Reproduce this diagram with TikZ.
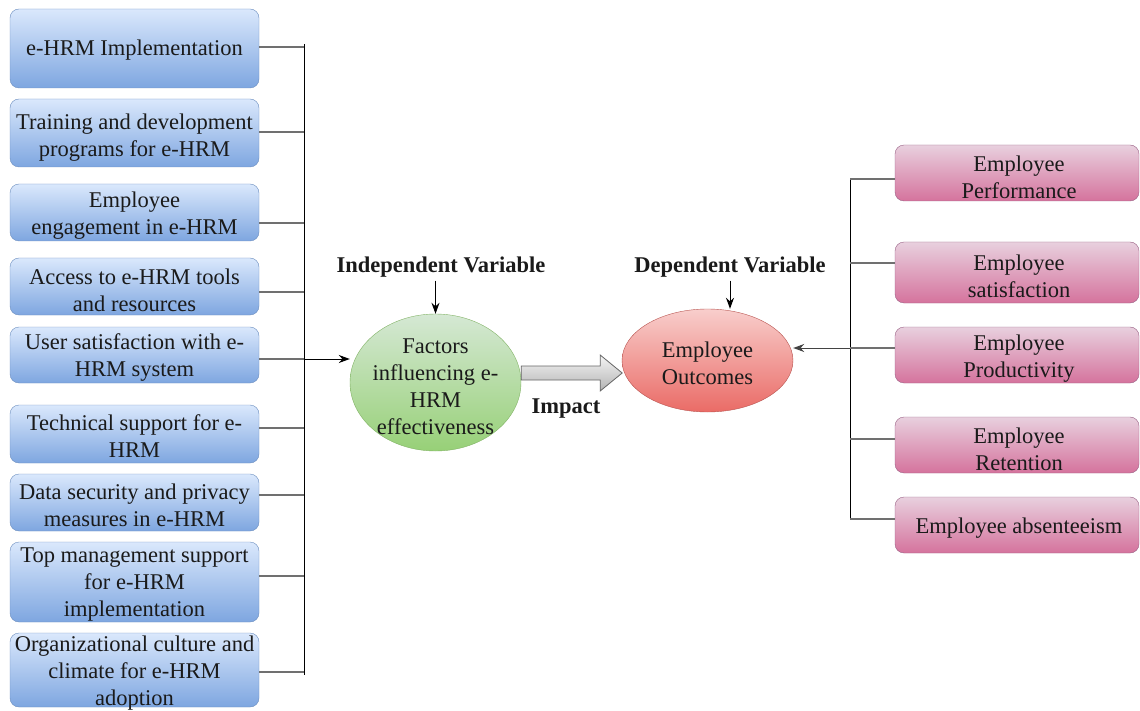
\documentclass[tikz,border=0pt]{standalone}
\usepackage{fontspec}
\setmainfont{Liberation Serif}
\newfontfamily\diagserif{Liberation Serif}
\usetikzlibrary{arrows.meta,calc,shapes.geometric}
\definecolor{bluetop}{HTML}{DAE8FC}
\definecolor{bluebot}{HTML}{7EA6E0}
\definecolor{bluestroke}{HTML}{6C8EBF}
\definecolor{pinktop}{HTML}{E8D0DE}
\definecolor{pinkbot}{HTML}{D5739D}
\definecolor{pinkstroke}{HTML}{996185}
\definecolor{greentop}{HTML}{D5E8D4}
\definecolor{greenbot}{HTML}{97D077}
\definecolor{greenstroke}{HTML}{82B366}
\definecolor{redtop}{HTML}{F8CECC}
\definecolor{redbot}{HTML}{EA6B66}
\definecolor{redstroke}{HTML}{B85450}
\definecolor{graytop}{HTML}{F5F5F5}
\definecolor{graybot}{HTML}{B3B3B3}
\definecolor{graystroke}{HTML}{666666}
\definecolor{txt}{HTML}{1A1A1A}
\definecolor{conn}{HTML}{707070}
\begin{document}
\begin{tikzpicture}[x=1pt,y=-1pt,
 every node/.style={font=\diagserif\fontsize{22.5}{27}\selectfont, text=txt},
 lbox/.style={draw=bluestroke, top color=bluetop, bottom color=bluebot, rounded corners=9pt, minimum width=249pt, inner sep=0pt},
 rbox/.style={draw=pinkstroke, top color=pinktop, bottom color=pinkbot, rounded corners=9pt, minimum width=244pt, minimum height=56pt, inner sep=0pt},
 btxt/.style={align=center, inner sep=0pt},
 oval/.style={ellipse, inner sep=0pt},
 lbl/.style={font=\diagserif\bfseries\fontsize{22.5}{27}\selectfont},
 hline/.style={draw=conn, line width=1.3pt},
 bus/.style={draw=black, line width=1pt},
 arr/.style={-{Stealth[length=11pt,width=8pt]}, line width=1pt, draw=black}
]
\useasboundingbox (0,0) rectangle (1140,711);

% left boxes
\node[lbox, minimum height=79pt] (b1) at (134.5,48.5) {};
\node[lbox, minimum height=68pt] (b2) at (134.5,133) {};
\node[lbox, minimum height=57pt] (b3) at (134.5,212.5) {};
\node[lbox, minimum height=57pt] (b4) at (134.5,286.5) {};
\node[lbox, minimum height=56pt] (b5) at (134.5,355) {};
\node[lbox, minimum height=58pt] (b6) at (134.5,434) {};
\node[lbox, minimum height=57pt] (b7) at (134.5,502.5) {};
\node[lbox, minimum height=80pt] (b8) at (134.5,582) {};
\node[lbox, minimum height=74pt] (b9) at (134.5,670) {};
\node[btxt] (b1t) at (b1.center |- 0,50.5) {e-HRM Implementation};
\node[btxt] (b2t) at (b2.center |- 0,138) {Training and development\\programs for e-HRM};
\node[btxt] (b3t) at (b3.center |- 0,215.5) {Employee\\engagement in e-HRM};
\node[btxt] (b4t) at (b4.center |- 0,290) {Access to e-HRM tools\\and resources};
\node[btxt] (b5t) at (b5.center |- 0,358) {User satisfaction with e-\\HRM system};
\node[btxt] (b6t) at (b6.center |- 0,436.5) {Technical support for e-\\HRM};
\node[btxt] (b7t) at (b7.center |- 0,505) {Data security and privacy\\measures in e-HRM};
\node[btxt] (b8t) at (b8.center |- 0,585) {Top management support\\for e-HRM\\implementation};
\node[btxt] (b9t) at (b9.center |- 0,673) {Organizational culture and\\climate for e-HRM\\adoption};

% left bus
\coordinate (lbtop) at (304,44);
\coordinate (lbbot) at (304,675);
\coordinate (lbmid) at (304,359);
\draw[bus] (lbtop) -- (lbbot);
\foreach \i/\y in {1/47,2/132,3/223,4/292,5/359,6/428,7/495,8/576,9/672}
  \draw[hline] (b\i.east |- 0,\y) -- (lbtop |- 0,\y);

% central ellipses
\node[oval, draw=greenstroke, top color=greentop, bottom color=greenbot, minimum width=171pt, minimum height=137pt] (g) at (435.5,382.5) {};
\node[btxt] (gt) at ($(g.center)+(0,4)$) {Factors\\influencing e-\\HRM\\effectiveness};
\node[oval, draw=redstroke, top color=redtop, bottom color=redbot, minimum width=171pt, minimum height=103pt] (r) at (707.5,360.5) {};
\node[btxt] (rt) at ($(r.center)+(0,3)$) {Employee\\Outcomes};

\draw[arr] (lbmid) -- (g.west |- lbmid);

% labels
\node[lbl] (iv) at (441,267) {Independent Variable};
\node[lbl] (dv) at (730,267) {Dependent Variable};
\node[lbl] (imp) at (566,409) {Impact};
\draw[arr] (g.north |- iv.south) -- (g.north);
\draw[arr] (dv.south) -- (dv.south |- r.north);

% block arrow
\draw[draw=graystroke, top color=graytop, bottom color=graybot, line width=0.8pt]
  ($(g.east)+(0,-16.5)$) -- ++(79,0) -- ++(0,-11) -- ++(22,18) -- ++(-22,18) -- ++(0,-11) -- ++(-79,0) -- cycle;

% right boxes
\node[rbox] (rb1) at (1017,173) {};
\node[rbox, minimum height=61pt] (rb2) at (1017,272.5) {};
\node[rbox] (rb3) at (1017,355) {};
\node[rbox] (rb4) at (1017,445) {};
\node[rbox] (rb5) at (1017,525) {};
\node[btxt] (rb1t) at (1019,177.5) {Employee\\Performance};
\node[btxt] (rb2t) at (1019,276) {Employee\\satisfaction};
\node[btxt] (rb3t) at (1019,359) {Employee\\Productivity};
\node[btxt] (rb4t) at (1019,449) {Employee\\Retention};
\node[btxt] (rb5t) at (1019,528.5) {Employee absenteeism};

% right bus
\coordinate (rbtop) at (850,179);
\coordinate (rbbot) at (850,519);
\coordinate (rbmid) at (850,348);
\draw[bus] (rbtop) -- (rbbot);
\foreach \i/\y in {1/179,2/263,3/348,4/439,5/519}
  \draw[hline] (rbtop |- 0,\y) -- (rb\i.west |- 0,\y);
\draw[arr, draw=conn!60!black] (rbmid) -- (r.east |- rbmid);
\end{tikzpicture}
\end{document}
